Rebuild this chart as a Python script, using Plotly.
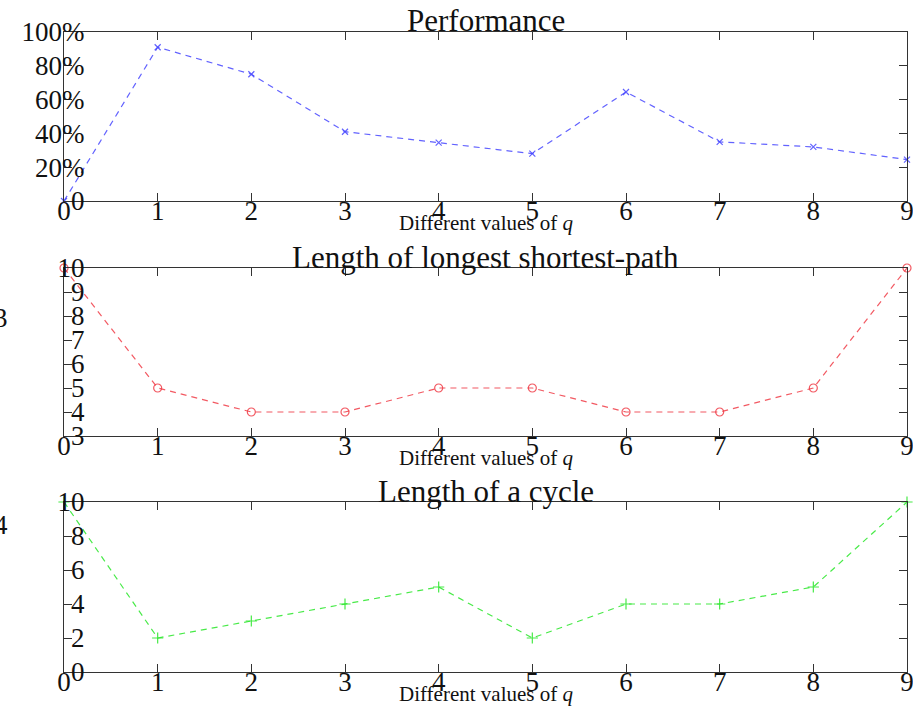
import plotly.graph_objects as go

q_values = [0, 1, 2, 3, 4, 5, 6, 7, 8, 9]
performance = [0.0, 0.91, 0.75, 0.41, 0.345, 0.28, 0.645, 0.35, 0.32, 0.245]
longest_shortest_path = [10, 5, 4, 4, 5, 5, 4, 4, 5, 10]
cycle_length = [10, 2, 3, 4, 5, 2, 4, 4, 5, 10]

perf_tickvals = [0, 0.2, 0.4, 0.6, 0.8, 1.0]
perf_ticktext = ["0", "20%", "40%", "60%", "80%", "100%"]
path_tickvals = [3, 4, 5, 6, 7, 8, 9, 10]
cycle_tickvals = [0, 2, 4, 6, 8, 10]

titles = ["Performance", "Length of longest shortest-path", "Length of a cycle"]
xlabel = "Different values of <i>q</i>"

W, H = 913, 707
L, R = 64, 907
panels_px = [(32, 201), (268, 436), (502, 672)]

fig = go.Figure()

series = [
    (performance, "rgba(70,70,255,0.85)", "x-thin-open", 6),
    (longest_shortest_path, "rgba(240,60,70,0.85)", "circle-open", 8),
    (cycle_length, "rgba(40,230,40,0.85)", "cross-thin-open", 8),
]
for i, (vals, col, sym, ms) in enumerate(series):
    fig.add_trace(go.Scatter(
        x=q_values, y=vals, mode="lines+markers",
        line=dict(color=col, width=1.2, dash="6px,5px"),
        marker=dict(symbol=sym, size=ms, color=col, line=dict(color=col, width=1.2)),
        xaxis="x" if i == 0 else f"x{i+1}",
        yaxis="y" if i == 0 else f"y{i+1}",
        showlegend=False, cliponaxis=False,
    ))

tick_font = dict(family="Liberation Serif, DejaVu Serif, serif", size=27, color="#111")
axis_common = dict(
    showline=True, linecolor="#333", linewidth=1, mirror="allticks",
    ticks="inside", ticklen=8, tickwidth=1, tickcolor="#333",
    showgrid=False, zeroline=False, tickfont=tick_font,
    automargin=False, ticklabeloverflow="allow",
)

y_ranges = [[0, 1.0], [3, 10], [0, 10]]
y_ticks = [(perf_tickvals, perf_ticktext), (path_tickvals, [str(v) for v in path_tickvals]),
           (cycle_tickvals, [str(v) for v in cycle_tickvals])]

layout = dict(
    width=W, height=H, margin=dict(l=L, r=W - R, t=0, b=0, autoexpand=False),
    paper_bgcolor="white", plot_bgcolor="white",
)
for i, (top, bot) in enumerate(panels_px):
    sfx = "" if i == 0 else str(i + 1)
    dom = [1 - bot / H, 1 - top / H]
    layout[f"xaxis{sfx}"] = dict(
        axis_common, domain=[0, 1], range=[0, 9], tickmode="array",
        tickvals=q_values, ticktext=[str(v) for v in q_values],
        anchor=f"y{sfx}", ticklabelstandoff=-14,
    )
    tv, tt = y_ticks[i]
    layout[f"yaxis{sfx}"] = dict(
        axis_common, domain=dom, range=y_ranges[i], tickmode="array",
        tickvals=tv, ticktext=tt, anchor=f"x{sfx}", ticklabelstandoff=-27,
    )
fig.update_layout(**layout)

for i, (top, bot) in enumerate(panels_px):
    sfx = "" if i == 0 else str(i + 1)
    h = bot - top
    fig.add_annotation(
        text=titles[i], xref=f"x{sfx} domain", yref=f"y{sfx} domain",
        x=0.5, y=1 + 11 / h, xanchor="center", yanchor="middle", showarrow=False,
        font=dict(family="Liberation Serif, serif", size=31, color="#111"),
    )
    fig.add_annotation(
        text=xlabel, xref=f"x{sfx} domain", yref=f"y{sfx} domain",
        x=0.5, y=-22 / h, xanchor="center", yanchor="middle", showarrow=False,
        font=dict(family="Liberation Serif, serif", size=21, color="#111"),
    )

# stray cut-off labels at the far left edge
for txt, yc in [("3", 318), ("4", 525)]:
    fig.add_annotation(
        text=txt, xref="paper", yref="paper", x=(10 - L) / (R - L), y=1 - yc / H,
        xanchor="right", yanchor="middle", showarrow=False,
        font=dict(family="Liberation Serif, serif", size=27, color="#111"),
    )

fig.write_html("out.html")
